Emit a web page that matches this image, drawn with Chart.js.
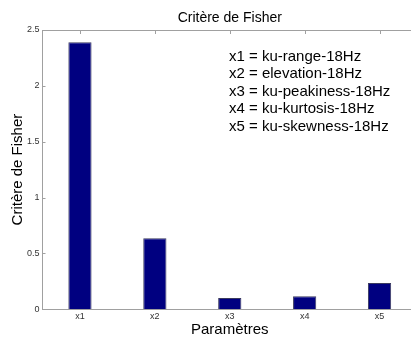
<!DOCTYPE html>
<html>
<head>
<meta charset="utf-8">
<script src="https://cdn.jsdelivr.net/npm/chart.js@4.4.1/dist/chart.umd.min.js"></script>
<style>
  html, body { margin: 0; padding: 0; background: #fff; overflow: hidden; }
  #wrap { width: 411px; height: 338px; overflow: hidden; }
</style>
</head>
<body>
<div id="wrap"><canvas id="fisher" width="420" height="338"></canvas></div>
<script>
// parametres et valeurs du critere
const categories = ['x1', 'x2', 'x3', 'x4', 'x5'];
const fisherValues = [2.39, 0.635, 0.10, 0.115, 0.235];
const yTicks = [0, 0.5, 1, 1.5, 2, 2.5];
const legendLines = [
  'x1 = ku-range-18Hz',
  'x2 = elevation-18Hz',
  'x3 = ku-peakiness-18Hz',
  'x4 = ku-kurtosis-18Hz',
  'x5 = ku-skewness-18Hz'
];

const axisColor = '#a0a0a0';
const fontFamily = 'Arial, "Liberation Sans", sans-serif';

// boite style matlab : cadre haut, graduations vers l'interieur, titre et texte
const boxPlugin = {
  id: 'matlabBox',
  afterDraw(chart) {
    const ctx = chart.ctx;
    const area = chart.chartArea;
    const xs = chart.scales.x;
    const ys = chart.scales.y;
    ctx.save();
    ctx.strokeStyle = axisColor;
    ctx.lineWidth = 1;
    ctx.beginPath();
    ctx.moveTo(area.left, Math.round(area.top) + 0.5);
    ctx.lineTo(area.right, Math.round(area.top) + 0.5);
    // graduations x (haut)
    categories.forEach((c, i) => {
      const px = Math.round(xs.getPixelForValue(i)) + 0.5;
      ctx.moveTo(px, area.top);
      ctx.lineTo(px, area.top + 4);
    });
    // graduations y (gauche)
    yTicks.forEach(v => {
      const py = Math.round(ys.getPixelForValue(v)) + 0.5;
      ctx.moveTo(area.left, py);
      ctx.lineTo(area.left + 3, py);
    });
    ctx.stroke();

    const cx = (area.left + area.right) / 2;
    ctx.fillStyle = '#000';
    ctx.font = '14px ' + fontFamily;
    ctx.textAlign = 'center';
    ctx.textBaseline = 'middle';
    ctx.fillText('Critère de Fisher', cx, 18);

    ctx.font = '15px ' + fontFamily;
    ctx.textAlign = 'left';
    const lineY = [57, 74, 91.5, 108.5, 126.5];
    legendLines.forEach((t, i) => ctx.fillText(t, 229, lineY[i]));
    ctx.restore();
  }
};

const chartData = {
  labels: categories,
  datasets: [{
    data: fisherValues,
    backgroundColor: '#000080',
    borderColor: '#3a3a5e',
    borderWidth: 1,
    barPercentage: 0.31,
    categoryPercentage: 1
  }]
};

const chartConfig = {
  type: 'bar',
  data: chartData,
  options: {
    responsive: false,
    animation: false,
    layout: { padding: { top: 30, right: 3, left: 3, bottom: 0 } },
    plugins: {
      legend: { display: false },
      tooltip: { enabled: false }
    },
    scales: {
      x: {
        grid: { display: false, drawTicks: false, tickLength: 0 },
        border: { color: axisColor },
        ticks: { color: '#333', font: { family: fontFamily, size: 9 }, padding: 2 },
        title: {
          display: true,
          text: 'Paramètres',
          color: '#000',
          font: { family: fontFamily, size: 15 },
          padding: { top: -3, bottom: -1 }
        }
      },
      y: {
        min: 0,
        max: 2.5,
        grid: { display: false, drawTicks: false, tickLength: 0 },
        border: { color: axisColor },
        afterBuildTicks(scale) {
          scale.ticks = yTicks.map(v => ({ value: v }));
        },
        ticks: {
          color: '#333',
          font: { family: fontFamily, size: 9 },
          padding: 3,
          callback: v => String(v)
        },
        title: {
          display: true,
          text: 'Critère de Fisher',
          color: '#000',
          font: { family: fontFamily, size: 15 },
          padding: { top: 6, bottom: -3 }
        }
      }
    }
  },
  plugins: [boxPlugin]
};

var fisherChart = new Chart(document.getElementById('fisher'), chartConfig);
</script>
</body>
</html>
